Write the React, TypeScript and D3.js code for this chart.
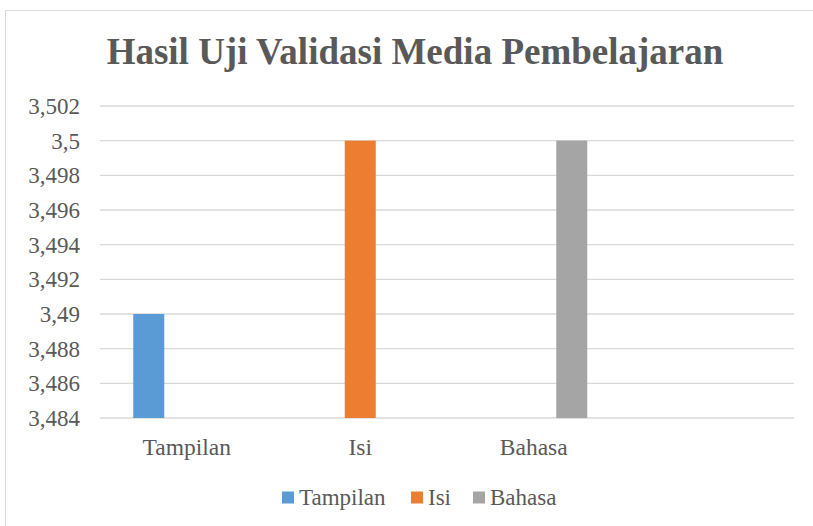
import React from "react";
import * as d3 from "d3";

// Clustered column chart (Excel style) of media validation results.
const categories = ["Tampilan", "Isi", "Bahasa", ""];
const series = ["Tampilan", "Isi", "Bahasa"];
const colors = ["#5B9BD5", "#ED7D31", "#A5A5A5"];
// one row per series, one value per category (null = no bar)
const values: (number | null)[][] = [
  [3.49, null, null, null],
  [null, 3.5, null, null],
  [null, null, 3.5, null],
];
const yTicks = [3.484, 3.486, 3.488, 3.49, 3.492, 3.494, 3.496, 3.498, 3.5, 3.502];

const W = 813;
const H = 526;
const FONT = "Liberation Serif";
const TEXT = "#595959";

export default function App() {
  const x0 = d3.scaleBand().domain(categories).range([100, 794]);
  const x1 = d3.scaleBand().domain(series).range([-53.5, 53.5]).paddingInner(0.184);
  const y = d3.scaleLinear().domain([3.484, 3.502]).range([418, 106]);
  const fmt = (d: number) => String(+d.toFixed(3)).replace(".", ",");
  const legendX = [282, 411, 473];

  return (
    <div style={{ position: "fixed", left: 0, top: 0 }}>
      <svg width={W} height={H} style={{ display: "block" }} fontFamily={FONT}>
        <rect x={5.5} y={10.5} width={W} height={H} fill="#fff" stroke="#d9d9d9" />
        <text
          x={415}
          y={64}
          textAnchor="middle"
          fontFamily={FONT}
          fontWeight="bold"
          fontSize={37}
          fill={TEXT}
        >
          Hasil Uji Validasi Media Pembelajaran
        </text>

        {/* gridlines */}
        <g>
          {yTicks.map((t) => (
            <line key={t} x1={100} x2={794} y1={y(t)} y2={y(t)} stroke="#d9d9d9" strokeWidth={1.3} />
          ))}
        </g>

        {/* y tick labels */}
        <g>
          {yTicks.map((t) => (
            <text
              key={t}
              x={80}
              y={y(t)}
              dy="0.35em"
              textAnchor="end"
              fontFamily={FONT}
              fontSize={23}
              fill={TEXT}
            >
              {fmt(t)}
            </text>
          ))}
        </g>

        {/* bars */}
        {series.map((s, i) => (
          <g key={s}>
            {categories.map((c, j) => {
              const v = values[i][j];
              if (v == null) return null;
              return (
                <rect
                  key={c}
                  x={(x0(c) as number) + x0.bandwidth() / 2 + (x1(s) as number)}
                  width={x1.bandwidth()}
                  y={y(v)}
                  height={y(3.484) - y(v)}
                  fill={colors[i]}
                />
              );
            })}
          </g>
        ))}

        {/* x category labels */}
        <g>
          {categories.map((c) => (
            <text
              key={c || "blank"}
              x={(x0(c) as number) + x0.bandwidth() / 2}
              y={455}
              textAnchor="middle"
              fontFamily={FONT}
              fontSize={23.5}
              fill={TEXT}
            >
              {c}
            </text>
          ))}
        </g>

        {/* legend */}
        <g>
          {series.map((s, i) => (
            <g key={s}>
              <rect x={legendX[i]} y={491.5} width={12} height={12} fill={colors[i]} />
              <text x={legendX[i] + 17} y={505} fontFamily={FONT} fontSize={23} fill={TEXT}>
                {s}
              </text>
            </g>
          ))}
        </g>
      </svg>
    </div>
  );
}
